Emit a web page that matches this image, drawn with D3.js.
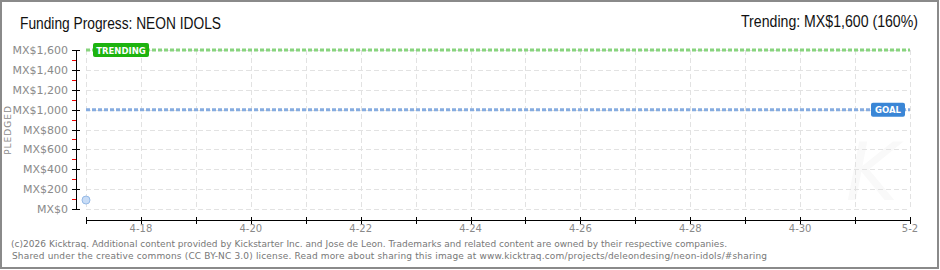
<!DOCTYPE html>
<html><head><meta charset="utf-8">
<script src="https://cdn.jsdelivr.net/npm/d3@7"></script>
<style>body{margin:0;background:#fff}svg{display:block}</style>
</head><body><svg id="c" width="940" height="270"></svg>
<script>
const pledgeDates = ["2026-04-17"];
const pledgeValues = [90];
const goalValue = 1000;
const trendingValue = 1600;
const yTickValues = [0,200,400,600,800,1000,1200,1400,1600];
const xTickLabels = ["4-18","4-20","4-22","4-24","4-26","4-28","4-30","5-2"];
const titleText = "Funding Progress: NEON IDOLS";
const trendText = "Trending:  MX$1,600 (160%)";
const footer = ["(c)2026 Kicktraq. Additional content provided by Kickstarter Inc. and Jose de Leon. Trademarks and related content are owned by their respective companies.",
"Shared under the creative commons (CC BY-NC 3.0) license. Read more about sharing this image at www.kicktraq.com/projects/deleondesing/neon-idols/#sharing"];
const footerLen = [716, 755];

const svg = d3.select("#c");
const parse = d3.timeParse("%Y-%m-%d");
const x = d3.scaleTime().domain([parse("2026-04-17"), parse("2026-05-02")]).range([86, 910]);
const y = d3.scaleLinear().domain([0,1600]).range([209,50]);
const days = d3.timeDay.range(parse("2026-04-17"), d3.timeDay.offset(parse("2026-05-02"),1));
const fmt = d => (d.getMonth()+1)+"-"+d.getDate();

// frame
svg.append("rect").attr("x",1).attr("y",1).attr("width",937).attr("height",267)
  .attr("fill","#fff").attr("stroke","#8a8a8a").attr("stroke-width",2);

// watermark
svg.append("text").attr("x",872).attr("y",200).attr("text-anchor","middle")
  .attr("font-family","DejaVu Sans").attr("font-size",80).attr("font-style","italic")
  .attr("fill","#f9f9f9").text("K");

// grid
const g = svg.append("g");
g.selectAll(".hg").data(yTickValues).join("line")
  .attr("x1",86).attr("x2",910).attr("y1",d=>Math.round(y(d))+0.5).attr("y2",d=>Math.round(y(d))+0.5)
  .attr("stroke","#e2e2e2").attr("stroke-dasharray","5,3");
g.selectAll(".vg").data(days).join("line")
  .attr("x1",d=>Math.round(x(d))+0.5).attr("x2",d=>Math.round(x(d))+0.5).attr("y1",50).attr("y2",209)
  .attr("stroke","#e2e2e2").attr("stroke-dasharray","5,3");

// y axis
const ya = svg.append("g");
ya.append("line").attr("x1",76.5).attr("x2",76.5).attr("y1",50).attr("y2",210).attr("stroke","#000");
const minor = d3.range(100,1600,200);
ya.selectAll(".mn").data(minor).join("line")
  .attr("x1",72).attr("x2",76).attr("y1",d=>Math.round(y(d))+0.5).attr("y2",d=>Math.round(y(d))+0.5)
  .attr("stroke","#e00");
ya.selectAll(".mj").data(yTickValues).join("line")
  .attr("x1",72).attr("x2",80).attr("y1",d=>Math.round(y(d))+0.5).attr("y2",d=>Math.round(y(d))+0.5)
  .attr("stroke","#000");
ya.selectAll("text").data(yTickValues).join("text")
  .attr("x",68).attr("y",d=>y(d)+4).attr("text-anchor","end")
  .attr("font-family","DejaVu Sans").attr("font-size",11).attr("fill","#8a8a8a")
  .text(d=>"MX$"+d3.format(",")(d));
svg.append("text").attr("transform","translate(11,130) rotate(-90)").attr("text-anchor","middle")
  .attr("font-family","DejaVu Sans").attr("font-size",9).attr("letter-spacing",1).attr("fill","#8a8a8a").text("PLEDGED");

// x axis
const xa = svg.append("g");
xa.append("line").attr("x1",86).attr("x2",911).attr("y1",220.5).attr("y2",220.5).attr("stroke","#000");
xa.selectAll(".t").data(days).join("line")
  .attr("x1",d=>Math.round(x(d))+0.5).attr("x2",d=>Math.round(x(d))+0.5).attr("y1",217).attr("y2",224)
  .attr("stroke","#000");
const labDays = days.filter(d => xTickLabels.includes(fmt(d)));
xa.selectAll("text").data(labDays).join("text")
  .attr("x",d=>x(d)).attr("y",232).attr("text-anchor","middle")
  .attr("font-family","DejaVu Sans").attr("font-size",10).attr("fill","#8a8a8a").text(d=>fmt(d));

// trending & goal lines
svg.append("line").attr("x1",86).attr("x2",910).attr("y1",y(trendingValue)).attr("y2",y(trendingValue))
  .attr("stroke","#88d47e").attr("stroke-width",3).attr("stroke-dasharray","4,2");
svg.append("line").attr("x1",86).attr("x2",910).attr("y1",y(goalValue)).attr("y2",y(goalValue))
  .attr("stroke","#86ace0").attr("stroke-width",3).attr("stroke-dasharray","4,2");

function badge(cx, cy, w, color, label){
  svg.append("rect").attr("x",cx).attr("y",cy-7).attr("width",w).attr("height",14).attr("rx",2)
    .attr("fill",color);
  svg.append("text").attr("x",cx+w/2).attr("y",cy+3.5).attr("text-anchor","middle")
    .attr("font-family","DejaVu Sans").attr("font-weight","bold").attr("font-size",8.5)
    .attr("fill","#fff").text(label);
}
badge(93, y(trendingValue), 56, "#1db30f", "TRENDING");
badge(871, y(goalValue), 34, "#3a86d6", "GOAL");

// data point
svg.selectAll(".pt").data(pledgeDates).join("circle")
  .attr("cx",d=>x(parse(d))).attr("cy",(d,i)=>y(pledgeValues[i])).attr("r",4)
  .attr("fill","#c8dcf6").attr("stroke","#95b9e6");

// titles
svg.append("text").attr("x",20).attr("y",29).attr("font-family","Liberation Sans").attr("font-size",16)
  .attr("textLength",201).attr("lengthAdjust","spacingAndGlyphs")
  .attr("fill","#111").text(titleText);
svg.append("text").attr("x",918).attr("y",27).attr("text-anchor","end").attr("font-family","Liberation Sans").attr("font-size",16)
  .attr("textLength",177).attr("lengthAdjust","spacingAndGlyphs")
  .attr("fill","#111").text(trendText);

// footer
svg.selectAll(".ft").data(footer).join("text")
  .attr("x",(d,i)=>11+i).attr("y",(d,i)=>247+i*12).attr("font-family","DejaVu Sans").attr("font-size",9)
  .attr("textLength",(d,i)=>footerLen[i]).attr("lengthAdjust","spacing")
  .attr("fill","#777").text(d=>d);
</script></body></html>
